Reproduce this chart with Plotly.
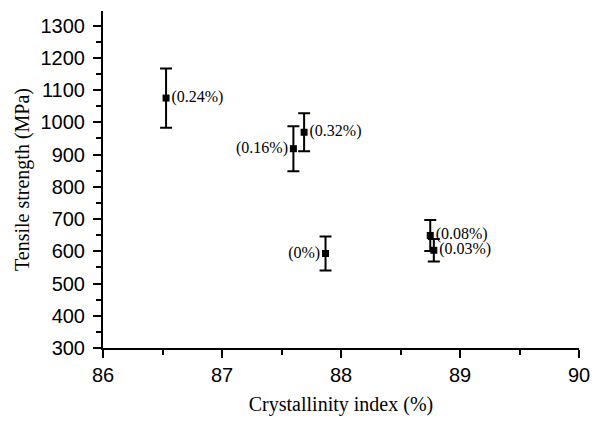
import plotly.graph_objects as go

crystallinity = [86.53, 87.60, 87.69, 87.87, 88.75, 88.78]
strength = [1075, 918, 969, 593, 649, 603]
err = [92, 70, 59, 53, 48, 35]
labels = ["(0.24%)", "(0.16%)", "(0.32%)", "(0%)", "(0.08%)", "(0.03%)"]
positions = ["middle right", "middle left", "middle right", "middle left", "middle right", "middle right"]

fig = go.Figure()
fig.add_trace(go.Scatter(
    x=crystallinity, y=strength, mode="markers+text",
    marker=dict(symbol="square", size=7, color="black"),
    error_y=dict(type="data", array=err, visible=True, color="black", thickness=2, width=6),
    text=labels, textposition=positions,
    textfont=dict(family="Liberation Serif", size=16, color="black"),
    showlegend=False, cliponaxis=False,
))

axis_common = dict(
    showline=True, linecolor="black", linewidth=2, showgrid=False, zeroline=False,
    ticks="outside", ticklen=8, tickwidth=2, tickcolor="black",
    tickfont=dict(family="Liberation Sans", size=20, color="black"),
)
fig.update_xaxes(range=[86, 90], dtick=1, tick0=86,
                 minor=dict(dtick=0.5, ticks="outside", ticklen=5, tickwidth=2, tickcolor="black"),
                 title=dict(text="Crystallinity index (%)", font=dict(family="Liberation Serif", size=20, color="black"), standoff=12),
                 **axis_common)
fig.update_yaxes(range=[300, 1345], dtick=100, tick0=300,
                 minor=dict(dtick=50, ticks="outside", ticklen=5, tickwidth=2, tickcolor="black"),
                 title=dict(text="Tensile strength (MPa)", font=dict(family="Liberation Serif", size=20, color="black"), standoff=6),
                 ticklabelstandoff=4,
                 **axis_common)
fig.update_layout(
    width=601, height=423, margin=dict(l=103, r=18, t=11, b=69),
    plot_bgcolor="white", paper_bgcolor="white",
)
fig.write_html("out.html")
